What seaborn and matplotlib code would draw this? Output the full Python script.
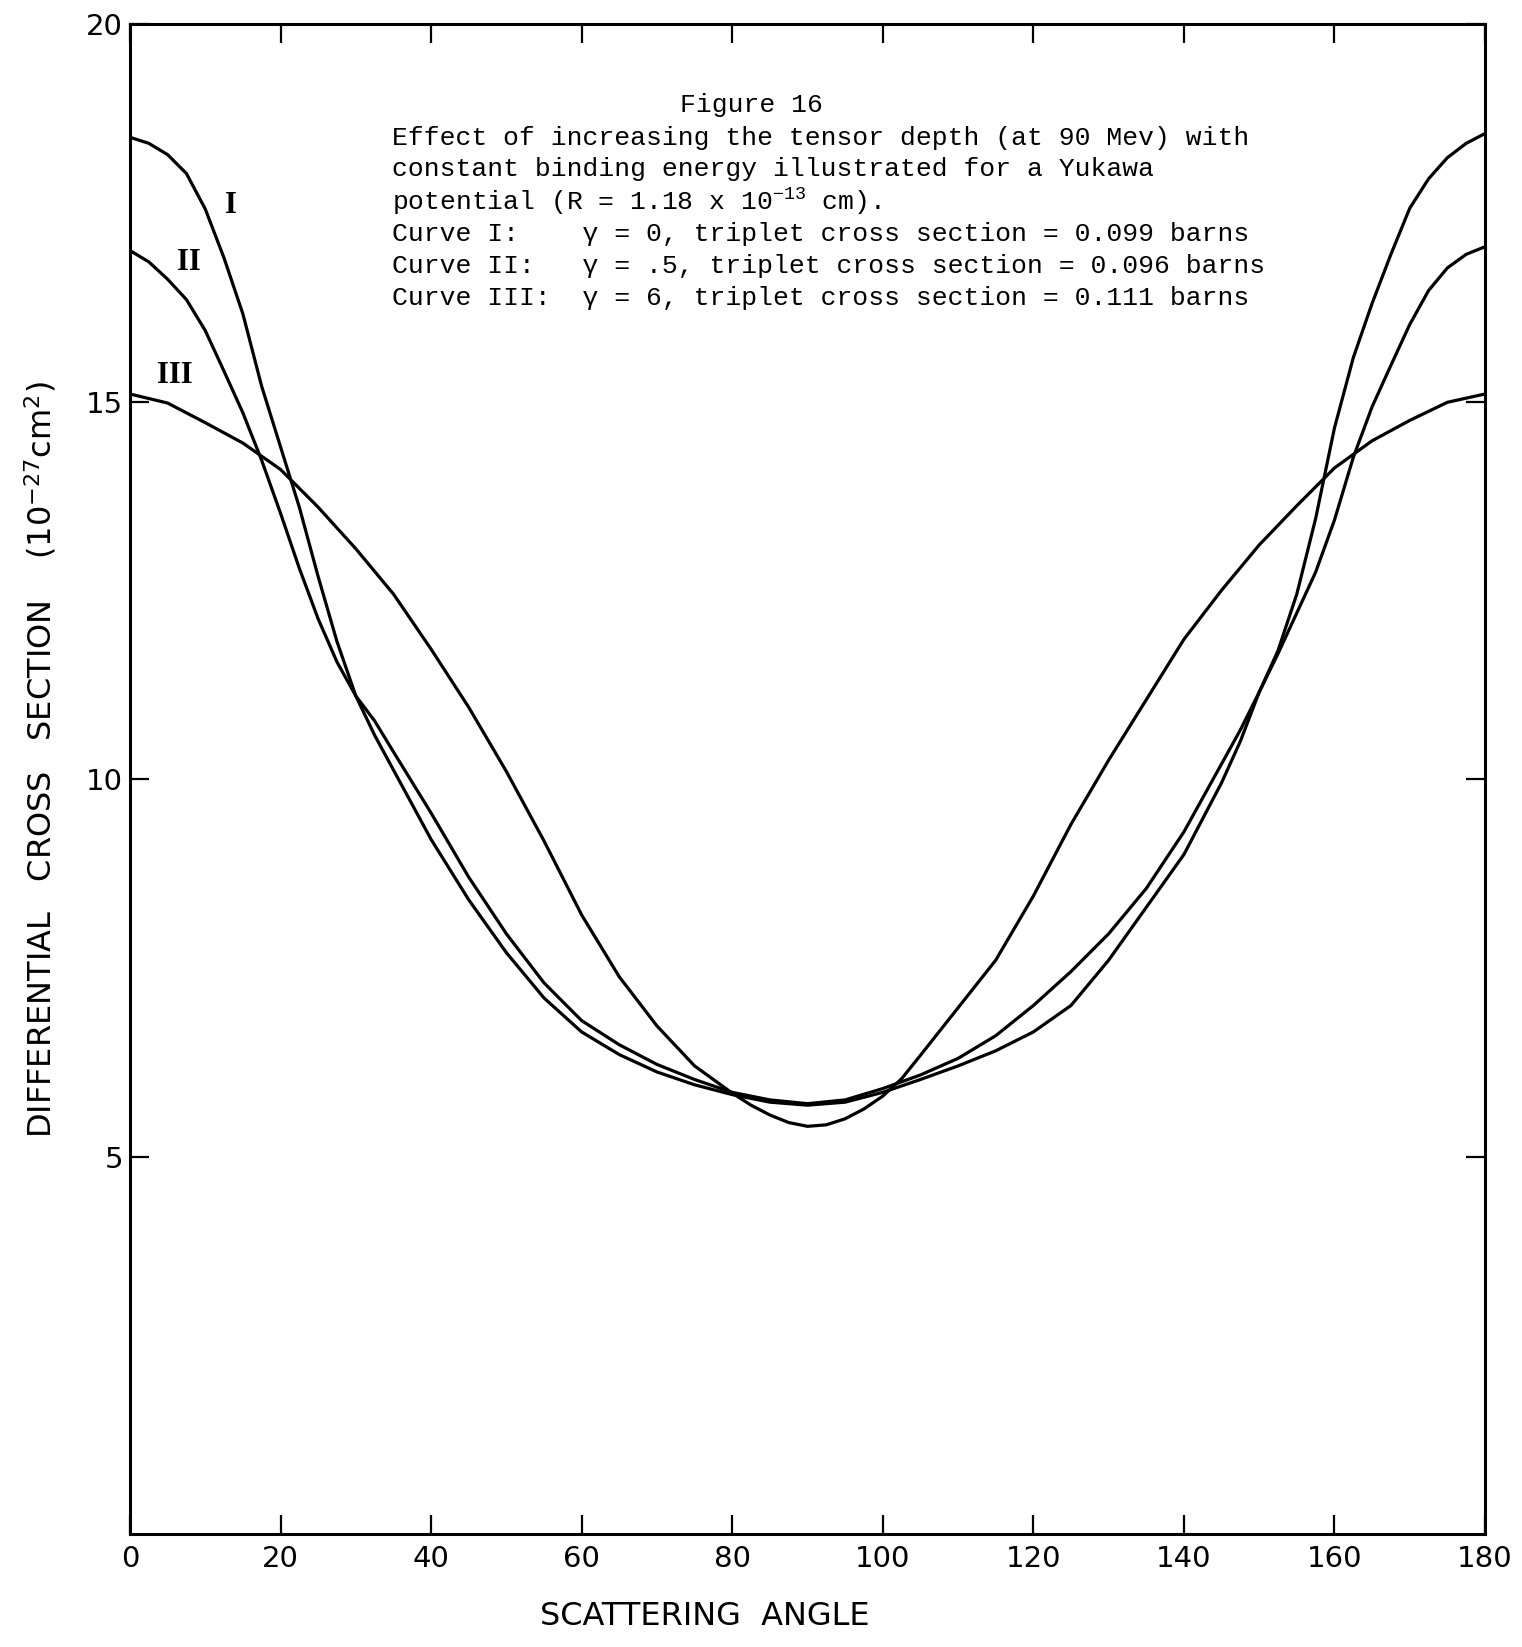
import matplotlib
matplotlib.use("Agg")
import matplotlib.pyplot as plt
import numpy as np
import pandas as pd
import seaborn as sns

# ---------------- data ----------------
angles_I_II = [0, 2.5, 5, 7.5, 10, 12.5, 15, 17.5, 20, 22.5, 25, 27.5, 30, 32.5, 35,
               40, 45, 50, 55, 60, 65, 70, 75, 80, 85, 90, 95, 100, 105, 110,
               115, 120, 125, 130, 135, 140, 145,
               147.5, 150, 152.5, 155, 157.5, 160, 162.5, 165, 167.5, 170,
               172.5, 175, 177.5, 180]

curve_I = [18.5, 18.42, 18.27, 18.02, 17.55, 16.9, 16.16, 15.2, 14.4, 13.6,
           12.68, 11.82, 11.1, 10.58, 10.12,
           9.2, 8.4, 7.7, 7.1, 6.65, 6.35, 6.12, 5.95, 5.82, 5.72, 5.68, 5.72,
           5.85, 6.02, 6.2, 6.4, 6.65, 7.0, 7.6, 8.3, 9.0, 9.95,
           10.5, 11.15, 11.7, 12.45, 13.45, 14.65, 15.58, 16.3, 16.95, 17.56,
           17.95, 18.23, 18.42, 18.55]

curve_II = [17.0, 16.85, 16.62, 16.35, 15.94, 15.4, 14.85, 14.22, 13.52, 12.79,
            12.12, 11.55, 11.1, 10.77, 10.36,
            9.55, 8.7, 7.95, 7.3, 6.8, 6.48, 6.22, 6.02, 5.85, 5.75, 5.7, 5.75,
            5.9, 6.08, 6.3, 6.6, 7.0, 7.45, 7.95, 8.55, 9.3, 10.2,
            10.65, 11.15, 11.66, 12.2, 12.74, 13.43, 14.26, 14.93, 15.48, 16.02,
            16.47, 16.77, 16.95, 17.05]

angles_III = [0, 5, 10, 15, 20, 25, 30, 35, 40, 45, 50, 55, 60, 65, 70,
              75, 77.5, 80, 82.5, 85, 87.5, 90, 92.5, 95, 97.5, 100, 102.5, 105,
              110, 115, 120, 125, 130, 135, 140, 145, 150, 155, 160, 165, 170,
              175, 180]

curve_III = [15.1, 14.98, 14.72, 14.45, 14.1, 13.6, 13.05, 12.45, 11.72, 10.95,
             10.1, 9.18, 8.2, 7.38, 6.73,
             6.2, 6.02, 5.84, 5.68, 5.55, 5.45, 5.4, 5.42, 5.5, 5.63, 5.8, 6.03, 6.34,
             6.97, 7.6, 8.45, 9.4, 10.25, 11.05, 11.85, 12.5, 13.1, 13.62, 14.12,
             14.48, 14.75, 14.99, 15.1]

curve_names = ["I", "II", "III"]
x_ticks = [0, 20, 40, 60, 80, 100, 120, 140, 160, 180]
y_ticks = [5, 10, 15, 20]

title_line = "Figure 16"
caption_lines = [
    "Effect of increasing the tensor depth (at 90 Mev) with",
    "constant binding energy illustrated for a Yukawa",
    r"potential (R = 1.18 x 10$^{\mathrm{-13}}$ cm).",
    "Curve I:    \u03b3 = 0, triplet cross section = 0.099 barns",
    "Curve II:   \u03b3 = .5, triplet cross section = 0.096 barns",
    "Curve III:  \u03b3 = 6, triplet cross section = 0.111 barns",
]
x_label = "SCATTERING  ANGLE"
y_label = r"DIFFERENTIAL   CROSS   SECTION    (10$^{\mathsf{-27}}$cm$^{\mathsf{2}}$)"

# ---------------- build table ----------------
df = pd.DataFrame({
    "angle": angles_I_II + angles_I_II + angles_III,
    "value": curve_I + curve_II + curve_III,
    "curve": [curve_names[0]] * len(angles_I_II) + [curve_names[1]] * len(angles_I_II)
             + [curve_names[2]] * len(angles_III),
})

# ---------------- style ----------------
sns.set_theme(style="white")
plt.rcParams["font.family"] = ["DejaVu Sans"]
plt.rcParams["mathtext.fontset"] = "custom"
plt.rcParams["mathtext.rm"] = "Liberation Mono"
plt.rcParams["mathtext.sf"] = "DejaVu Sans"
plt.rcParams["mathtext.it"] = "Liberation Mono:italic"
plt.rcParams["mathtext.bf"] = "Liberation Mono:bold"

fig = plt.figure(figsize=(15.22, 16.47), dpi=100)
fig.patch.set_facecolor("white")
ax = fig.add_axes([0.0854, 0.0686, 0.8903, 0.9168])
ax.set_facecolor("white")

sns.lineplot(data=df, x="angle", y="value", units="curve", estimator=None,
             color="black", linewidth=2.3, sort=False, ax=ax, legend=False)
for ln in ax.get_lines():
    ln.set_solid_joinstyle("round")
    ln.set_solid_capstyle("round")

ax.set_xlim(0, 180)
ax.set_ylim(0, 20)
ax.set_xticks(x_ticks)
ax.set_xticklabels([str(v) for v in x_ticks])
ax.set_yticks(y_ticks)
ax.set_yticklabels([str(v) for v in y_ticks])

for sp in ax.spines.values():
    sp.set_color("black")
    sp.set_linewidth(2.2)
    sp.set_visible(True)

ax.tick_params(axis="both", direction="in", length=14, width=1.6, color="black",
               top=True, right=True, bottom=True, left=True,
               labeltop=False, labelright=False, labelsize=21, labelcolor="black")
ax.tick_params(axis="x", pad=8)
ax.tick_params(axis="y", pad=5)

ax.set_xlabel(x_label, fontsize=23, color="black", va="center")
ax.xaxis.set_label_coords(0.424, -0.0545)
ax.set_ylabel(y_label, fontsize=23, color="black", va="center")
ax.yaxis.set_label_coords(-0.0664, 0.513)

# caption block
mono = "Liberation Mono"
ax.text(0.4583, 0.9464, title_line, transform=ax.transAxes, ha="center",
        va="center", fontsize=19, family=mono, color="black")
caption_y = [0.9248, 0.9040, 0.8823, 0.8609, 0.8397, 0.8185]
for txt, yy in zip(caption_lines, caption_y):
    ax.text(0.1934, yy, txt, transform=ax.transAxes, ha="left", va="center",
            fontsize=19, family=mono, color="black")

# curve labels
label_pos = {"I": (13.4, 17.6), "II": (7.8, 16.84), "III": (6.0, 15.34)}
for name in curve_names:
    lx, ly = label_pos[name]
    ax.text(lx, ly, name, ha="center", va="center", fontsize=22,
            fontweight="bold", family="Liberation Serif", color="black")

fig.savefig("out.png", dpi=100, facecolor="white")
